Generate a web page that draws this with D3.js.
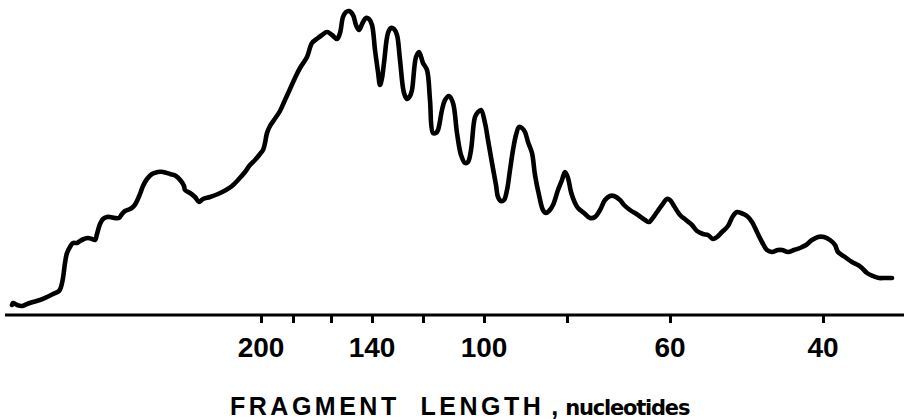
<!DOCTYPE html>
<html>
<head>
<meta charset="utf-8">
<script src="https://cdn.jsdelivr.net/npm/d3@7"></script>
<style>
  html, body { margin: 0; padding: 0; background: #fff; }
  .canvas svg { display: block; }
</style>
</head>
<body>
<div class="canvas"></div>
<script>
// fragment length markers and where they sit along the scan
const markerLengths = [200, 180, 160, 140, 120, 100, 80, 60, 40];
const markerPositions = [256, 288, 326, 367, 418, 479, 562, 665, 818];
const labelledLengths = [200, 140, 100, 60, 40];

// densitometer trace: scan position vs. absorbance (arbitrary units)
const scanPosition = [
  7, 8, 12, 17, 22, 28, 35, 42, 48, 54, 56, 58, 60, 62, 65, 68, 72, 75, 79, 83,
  87, 90, 92, 95, 98, 102, 105, 110, 114, 117, 120, 125, 128, 131, 135, 138, 142, 147, 153, 158,
  165, 171, 176, 179, 180, 185, 190, 194, 198, 205, 213, 221, 227, 233, 240, 245, 250, 255, 258, 260,
  262, 265, 269, 275, 280, 285, 290, 295, 302, 307, 313, 317, 322, 327, 332, 335, 338, 341, 344, 348,
  351, 354, 358, 361, 364, 367, 370, 373, 375, 377, 379, 383, 386, 389, 392, 395, 399, 402, 405, 407,
  411, 414, 418, 422, 425, 428, 431, 433, 437, 440, 444, 448, 452, 456, 460, 463, 466, 470, 473, 476,
  480, 483, 487, 491, 493, 496, 499, 502, 505, 508, 511, 514, 517, 520, 523, 527, 530, 534, 538, 541,
  544, 548, 553, 557, 560, 563, 566, 570, 573, 579, 585, 590, 595, 600, 605, 609, 615, 619, 625, 633,
  640, 644, 647, 652, 657, 662, 665, 669, 675, 681, 687, 692, 698, 703, 708, 712, 717, 723, 728, 732,
  736, 742, 747, 752, 757, 762, 767, 773, 777, 783, 789, 795, 801, 807, 813, 819, 825, 830, 833, 840,
  847, 853, 857, 862, 868, 874, 880, 887
];
const absorbance = [
  10, 12, 10, 9, 11, 13, 15, 18, 21, 24, 28, 37, 52, 62, 68, 72, 72, 74, 76, 77,
  76, 75, 81, 91, 96, 98, 98, 97, 97, 101, 104, 106, 108, 112, 121, 129, 136, 141, 143, 143,
  141, 139, 134, 129, 125, 122, 118, 113, 116, 118, 121, 125, 129, 135, 143, 150, 155, 161, 165, 172,
  182, 189, 195, 204, 215, 226, 237, 247, 258, 272, 277, 280, 283, 280, 276, 282, 298, 303, 304, 300,
  290, 285, 293, 297, 296, 290, 265, 243, 230, 237, 252, 282, 287, 286, 280, 255, 222, 216, 219, 225,
  258, 263, 252, 245, 215, 182, 182, 185, 205, 215, 219, 212, 182, 160, 152, 153, 165, 198, 203, 205,
  192, 175, 152, 130, 118, 114, 115, 125, 145, 165, 180, 188, 187, 183, 173, 162, 140, 120, 105, 102,
  104, 110, 125, 135, 143, 137, 123, 112, 107, 102, 97, 98, 105, 115, 119, 119, 115, 110, 105, 100,
  95, 93, 96, 103, 110, 116, 115, 109, 100, 95, 90, 84, 81, 80, 76, 78, 83, 89, 99, 103,
  102, 99, 93, 83, 73, 65, 63, 65, 65, 63, 65, 67, 70, 75, 78, 78, 75, 70, 63, 58,
  53, 50, 47, 42, 39, 37, 37, 37
];

const trace = scanPosition.map((p, i) => ({ pos: p, abs: absorbance[i] }));

const dims = { width: 904, height: 419 };

const svg = d3.select('.canvas')
    .append('svg')
    .attr('width', dims.width)
    .attr('height', dims.height);

const x = d3.scaleLinear()
    .domain([0, 900])
    .range([5, 905]);

const y = d3.scaleLinear()
    .domain([0, 300])
    .range([315, 15]);

// length -> scan position, from the marker lanes
const lengthToPos = d3.scaleLinear()
    .domain(markerLengths)
    .range(markerPositions);

// trace
const line = d3.line()
    .x(d => x(d.pos))
    .y(d => y(d.abs))
    .curve(d3.curveCatmullRom.alpha(0.5));

svg.append('path')
    .datum(trace)
    .attr('fill', 'none')
    .attr('stroke', '#000')
    .attr('stroke-width', 4.6)
    .attr('stroke-linejoin', 'round')
    .attr('stroke-linecap', 'round')
    .attr('d', line);

// x axis
const axis = d3.axisBottom(x)
    .tickValues(markerLengths.map(l => lengthToPos(l)))
    .tickSize(8)
    .tickSizeOuter(0)
    .tickFormat('');

const gAxis = svg.append('g')
    .attr('transform', `translate(0, ${y(0)})`)
    .call(axis);

gAxis.select('.domain')
    .attr('stroke', '#000')
    .attr('stroke-width', 3.2)
    .attr('d', `M${x.range()[0]},0H${x.range()[1]}`);

gAxis.selectAll('.tick line')
    .attr('stroke', '#000')
    .attr('stroke-width', 3);

svg.append('g')
    .selectAll('text')
    .data(labelledLengths)
    .enter()
    .append('text')
    .attr('x', d => x(lengthToPos(d)))
    .attr('y', 357)
    .attr('text-anchor', 'middle')
    .attr('font-family', 'Liberation Sans, Arial, sans-serif')
    .attr('font-weight', 'bold')
    .attr('font-size', 28)
    .attr('fill', '#000')
    .text(d => d);

// axis title
const title = svg.append('text')
    .attr('x', 230)
    .attr('y', 415)
    .attr('font-family', 'Liberation Sans, Arial, sans-serif')
    .attr('font-weight', 'bold')
    .attr('font-size', 25)
    .attr('fill', '#000');

title.append('tspan')
    .attr('letter-spacing', 3.5)
    .text('FRAGMENT\u00a0\u00a0LENGTH');

title.append('tspan')
    .text(' , ');

title.append('tspan')
    .attr('font-family', 'DejaVu Sans, sans-serif')
    .attr('font-size', 21)
    .attr('letter-spacing', -1.2)
    .text('nucleotides');
</script>
</body>
</html>
